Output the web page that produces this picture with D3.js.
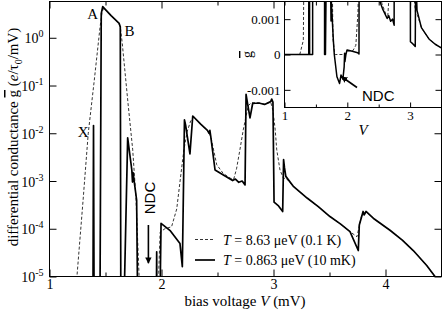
<!DOCTYPE html>
<html>
<head>
<meta charset="utf-8">
<script src="https://cdn.jsdelivr.net/npm/d3@7"></script>
<style>
body { margin: 0; background: #fff; }
svg { display: block; }
text { font-family: "Liberation Serif", "Times New Roman", serif; fill: #000; }
.sans { font-family: "Liberation Sans", Arial, sans-serif; }
</style>
</head>
<body>
<svg id="chart" width="443" height="310"></svg>
<script>
// T = 0.863 ueV (10 mK), conductance in e/tau0/mV (zero / negative = NDC)
var vSolid = [1.00, 1.386, 1.393, 1.400, 1.448, 1.462, 1.475, 1.55, 1.622, 1.632, 1.638, 1.652,
    1.698, 1.735, 1.741, 1.746, 1.778, 1.793, 1.835, 1.877, 1.900, 1.930, 1.950, 1.957, 1.962,
    1.978, 1.996, 2.08, 2.165, 2.186, 2.205, 2.215, 2.254, 2.279, 2.35, 2.41, 2.425, 2.432, 2.44,
    2.478, 2.56, 2.635, 2.66, 2.69, 2.72, 2.746, 2.755, 2.763, 2.790, 2.814, 2.87, 2.92, 2.975,
    2.984, 2.995, 3.005, 3.045, 3.082, 3.090, 3.098, 3.11, 3.18, 3.30, 3.40, 3.504, 3.60, 3.683,
    3.757, 3.766, 3.80, 3.81, 3.826, 3.90, 4.04, 4.15, 4.248, 4.368, 4.442, 4.47, 4.5];
var gSolid = [0, 0, 1.45e-2, 0, 0, 3.2, 4.5, 2.9, 2.0, 1.7, 0, 0,
    8.0e-3, 1.7e-3, 9.5e-4, 1.5e-3, 4.0e-4, 0, -6.3e-4, -8.2e-4, -5.8e-4, -7.0e-4, -3.5e-4, 3.3e-5, -2.0e-4,
    0, 1.3e-4, 9e-5, 4.9e-5, 1.6e-5, 1.9e-2, 1.5e-2, 3.7e-3, 2.3e-2, 1.55e-2, 1.15e-2, 1.0e-2, 1.15e-2, 8.5e-3,
    1.7e-3, 1.3e-3, 1.02e-3, 1.1e-3, 0.94e-3, 1.0e-3, 8.3e-4, 6.5e-2, 5.0e-2, 2.1e-2, 4.2e-2, 4.3e-2, 4.0e-2, 4.6e-2,
    5.2e-2, 4.5e-2, 3.6e-4, 3.0e-4, 2.3e-4, 2.8e-3, 1.9e-3, 1.25e-3, 7.6e-4, 4.4e-4, 2.9e-4, 1.8e-4, 1.25e-4, 8.7e-5,
    3.5e-5, 1.2e-4, 2.3e-4, 1.95e-4, 2.3e-4, 1.6e-4, 9.3e-5, 5.8e-5, 3.5e-5, 1.7e-5, 1.0e-5, 0, 0];

// T = 8.63 ueV (0.1 K)
var vDashed = [1.00, 1.20, 1.245, 1.30, 1.346, 1.40, 1.451, 1.47, 1.485, 1.55, 1.62, 1.635, 1.65,
    1.70, 1.743, 1.772, 1.80, 1.81, 1.965, 1.975, 1.988, 2.03, 2.09, 2.136, 2.17, 2.20, 2.23, 2.26,
    2.29, 2.35, 2.41, 2.44, 2.465, 2.493, 2.55, 2.612, 2.645, 2.67, 2.70, 2.73, 2.775, 2.805, 2.87,
    2.92, 2.975, 2.995, 3.015, 3.029, 3.058, 3.088, 3.12, 3.18, 3.30, 3.40, 3.504, 3.60, 3.683,
    3.745, 3.788, 3.83, 3.90, 4.04, 4.15, 4.248, 4.368, 4.442, 4.47, 4.5];
var gDashed = [0, 0, 1.0e-5, 4.0e-4, 1.0e-2, 1.3e-1, 1.65, 3.5, 4.2, 2.9, 2.0, 1.5, 0.75,
    4.5e-2, 4.5e-3, 4.4e-4, 1.0e-5, 0, 0, 1.2e-5, 8.5e-5, 1.0e-4, 1.1e-4, 2.6e-4, 1.2e-3, 4.5e-3, 1.1e-2, 1.8e-2,
    2.2e-2, 1.55e-2, 1.15e-2, 8.5e-3, 4.5e-3, 2.2e-3, 1.45e-3, 1.15e-3, 1.1e-3, 1.8e-3, 4.5e-3, 1.18e-2, 3.8e-2, 4.4e-2, 4.3e-2,
    4.1e-2, 4.5e-2, 3.0e-2, 1.2e-2, 4.5e-3, 1.7e-3, 1.15e-3, 1.1e-3, 7.6e-4, 4.4e-4, 2.9e-4, 1.8e-4, 1.25e-4, 8.7e-5,
    6.8e-5, 1.95e-4, 2.25e-4, 1.6e-4, 9.3e-5, 5.8e-5, 3.5e-5, 1.7e-5, 1.0e-5, 0, 0];

// ticks
var xMajor = [1, 2, 3, 4];
var xMinor = [1.5, 2.5, 3.5];
var yDecades = [-5, -4, -3, -2, -1, 0];
var insetXMajor = [1, 2, 3];
var insetXMinor = [1.5, 2.5];
var insetYTicks = [-0.001, 0, 0.001];
var insetYLabels = ["-0.001", "0", "0.001"];

var svg = d3.select("#chart");

var x = d3.scaleLinear().domain([1, 4.5]).range([49.5, 441.5]);
var y = d3.scaleLog().domain([1e-5, 5.75]).range([276.5, 1.5]);

var xi = d3.scaleLinear().domain([1, 3.5]).range([284.5, 441.5]);
var yi = d3.scaleLinear().domain([-0.0015, 0.0015]).range([107.5, 1.5]);

var solid = vSolid.map(function(v, i) { return [v, gSolid[i]]; });
var dashed = vDashed.map(function(v, i) { return [v, gDashed[i]]; });

var defs = svg.append("defs");
defs.append("clipPath").attr("id", "clipMain").append("rect")
    .attr("x", 49.5).attr("y", 1.5).attr("width", 392).attr("height", 275);
defs.append("clipPath").attr("id", "clipInset").append("rect")
    .attr("x", 284.5).attr("y", 1.5).attr("width", 157).attr("height", 106);
defs.append("marker").attr("id", "arrow")
    .attr("viewBox", "0 0 10 10").attr("refX", 9).attr("refY", 5)
    .attr("markerWidth", 4).attr("markerHeight", 4).attr("orient", "auto")
    .append("path").attr("d", "M0,0L10,5L0,10z").attr("fill", "#000");

// main curves (zero / negative values fall below the log axis)
var lineMain = d3.line()
    .x(function(d) { return x(d[0]); })
    .y(function(d) { return y(Math.max(d[1], 1e-7)); });

var gMain = svg.append("g").attr("clip-path", "url(#clipMain)");
gMain.append("path").datum(dashed).attr("d", lineMain)
    .attr("fill", "none").attr("stroke", "#000").attr("stroke-width", 0.8).attr("stroke-dasharray", "3,2");
gMain.append("path").datum(solid).attr("d", lineMain)
    .attr("fill", "none").attr("stroke", "#000").attr("stroke-width", 1.7).attr("stroke-linejoin", "round");

// main axes: inward ticks on all four sides
function noDomain(g) { g.select(".domain").remove(); }

svg.append("g").attr("transform", "translate(0,276.5)")
    .call(d3.axisBottom(x).tickValues(xMajor).tickSize(-7).tickPadding(3).tickFormat(d3.format("d")))
    .call(noDomain);
svg.append("g").attr("transform", "translate(0,276.5)")
    .call(d3.axisBottom(x).tickValues(xMinor).tickSize(-4).tickFormat(""))
    .call(noDomain);
svg.append("g").attr("transform", "translate(0,1.5)")
    .call(d3.axisTop(x).tickValues(xMajor).tickSize(-7).tickFormat(""))
    .call(noDomain);
svg.append("g").attr("transform", "translate(0,1.5)")
    .call(d3.axisTop(x).tickValues(xMinor).tickSize(-4).tickFormat(""))
    .call(noDomain);

var yTickVals = yDecades.map(function(e) { return Math.pow(10, e); });
var yLeft = svg.append("g").attr("transform", "translate(49.5,0)")
    .call(d3.axisLeft(y).tickValues(yTickVals).tickSize(-7).tickPadding(6).tickFormat(""))
    .call(noDomain);
svg.append("g").attr("transform", "translate(441.5,0)")
    .call(d3.axisRight(y).tickValues(yTickVals).tickSize(-7).tickFormat(""))
    .call(noDomain);

svg.selectAll(".tick line").attr("stroke", "#000");
svg.selectAll(".tick text").attr("font-family", null).attr("font-size", 14).attr("fill", "#000");

// 10^n labels
yLeft.selectAll(".tick").each(function(d) {
    var t = d3.select(this).append("text")
        .attr("x", -6).attr("y", 5).attr("text-anchor", "end").attr("font-size", 14);
    t.append("tspan").text("10");
    t.append("tspan").attr("dy", -6).attr("font-size", 10).text(Math.round(Math.log10(d)));
});

svg.append("rect").attr("x", 49.5).attr("y", 1.5).attr("width", 392).attr("height", 275)
    .attr("fill", "none").attr("stroke", "#000").attr("stroke-width", 1);

// axis titles
svg.append("text").attr("x", 245).attr("y", 306).attr("text-anchor", "middle").attr("font-size", 15)
    .html('bias voltage <tspan font-style="italic">V</tspan> (mV)');

var yt = svg.append("text").attr("transform", "translate(18,137) rotate(-90)")
    .attr("text-anchor", "middle").attr("font-size", 15);
yt.append("tspan").text("differential conductance ");
yt.append("tspan").style("text-decoration", "overline").text("g");
yt.append("tspan").text(" (");
yt.append("tspan").attr("font-style", "italic").text("e");
yt.append("tspan").text("/τ");
yt.append("tspan").attr("dy", 4).attr("font-size", 10).text("0");
yt.append("tspan").attr("dy", -4).text("/mV)");

// annotations
svg.append("text").attr("x", x(1.385)).attr("y", 19).attr("text-anchor", "middle").attr("font-size", 15).text("A");
svg.append("text").attr("x", x(1.715)).attr("y", 36).attr("text-anchor", "middle").attr("font-size", 15).text("B");
svg.append("text").attr("x", x(1.30)).attr("y", 137).attr("text-anchor", "middle").attr("font-size", 15).text("X");

svg.append("text").attr("class", "sans").attr("font-size", 15).attr("text-anchor", "middle")
    .attr("transform", "translate(" + (x(1.883) + 7) + ",198) rotate(-90)").text("NDC");
svg.append("line")
    .attr("x1", x(1.883)).attr("x2", x(1.883))
    .attr("y1", y(1.2e-4)).attr("y2", y(1.9e-5))
    .attr("stroke", "#000").attr("stroke-width", 1.6).attr("marker-end", "url(#arrow)");

// legend
svg.append("line").attr("x1", 195).attr("x2", 215).attr("y1", 239.5).attr("y2", 239.5)
    .attr("stroke", "#000").attr("stroke-width", 0.8).attr("stroke-dasharray", "3,2");
svg.append("text").attr("x", 223).attr("y", 244.5).attr("font-size", 14)
    .html('<tspan font-style="italic">T</tspan> = 8.63 μeV (0.1 K)');
svg.append("line").attr("x1", 195).attr("x2", 215).attr("y1", 260).attr("y2", 260)
    .attr("stroke", "#000").attr("stroke-width", 1.7);
svg.append("text").attr("x", 223).attr("y", 265).attr("font-size", 14)
    .html('<tspan font-style="italic">T</tspan> = 0.863 μeV (10 mK)');

// ---- inset: linear scale shows the negative conductance
svg.append("rect").attr("x", 284.5).attr("y", 1.5).attr("width", 157).attr("height", 106)
    .attr("fill", "#fff");

var lineInset = d3.line()
    .x(function(d) { return xi(d[0]); })
    .y(function(d) { return yi(d[1]); });

var gIn = svg.append("g").attr("clip-path", "url(#clipInset)");
gIn.append("path").datum(dashed).attr("d", lineInset)
    .attr("fill", "none").attr("stroke", "#000").attr("stroke-width", 0.8).attr("stroke-dasharray", "3,2");
gIn.append("path").datum(solid).attr("d", lineInset)
    .attr("fill", "none").attr("stroke", "#000").attr("stroke-width", 1.5).attr("stroke-linejoin", "round");

var inset = svg.append("g");
inset.append("g").attr("transform", "translate(0,107.5)")
    .call(d3.axisBottom(xi).tickValues(insetXMajor).tickSize(-5).tickPadding(3).tickFormat(d3.format("d")))
    .call(noDomain);
inset.append("g").attr("transform", "translate(0,107.5)")
    .call(d3.axisBottom(xi).tickValues(insetXMinor).tickSize(-3).tickFormat(""))
    .call(noDomain);
inset.append("g").attr("transform", "translate(0,1.5)")
    .call(d3.axisTop(xi).tickValues(insetXMajor.concat(insetXMinor)).tickSize(-4).tickFormat(""))
    .call(noDomain);
inset.append("g").attr("transform", "translate(284.5,0)")
    .call(d3.axisLeft(yi).tickValues(insetYTicks).tickSize(-6).tickPadding(4)
        .tickFormat(function(d, i) { return insetYLabels[i]; }))
    .call(noDomain);
inset.append("g").attr("transform", "translate(441.5,0)")
    .call(d3.axisRight(yi).tickValues(insetYTicks).tickSize(-6).tickFormat(""))
    .call(noDomain);
inset.selectAll(".tick line").attr("stroke", "#000");
inset.selectAll(".tick text").attr("font-family", null).attr("font-size", 13).attr("fill", "#000");

inset.append("rect").attr("x", 284.5).attr("y", 1.5).attr("width", 157).attr("height", 106)
    .attr("fill", "none").attr("stroke", "#000").attr("stroke-width", 1);

inset.append("text").attr("x", xi(2.25)).attr("y", 135).attr("text-anchor", "middle")
    .attr("font-size", 15).attr("font-style", "italic").text("V");
inset.append("text").attr("transform", "translate(252," + yi(0) + ") rotate(-90)")
    .attr("text-anchor", "middle").attr("font-size", 14)
    .append("tspan").style("text-decoration", "overline").text("g");

inset.append("text").attr("class", "sans").attr("x", 362).attr("y", 101).attr("font-size", 15).text("NDC");
inset.append("line")
    .attr("x1", 357).attr("y1", 87.5).attr("x2", xi(1.91)).attr("y2", yi(-0.00063))
    .attr("stroke", "#000").attr("stroke-width", 1.6).attr("marker-end", "url(#arrow)");
</script>
</body>
</html>
